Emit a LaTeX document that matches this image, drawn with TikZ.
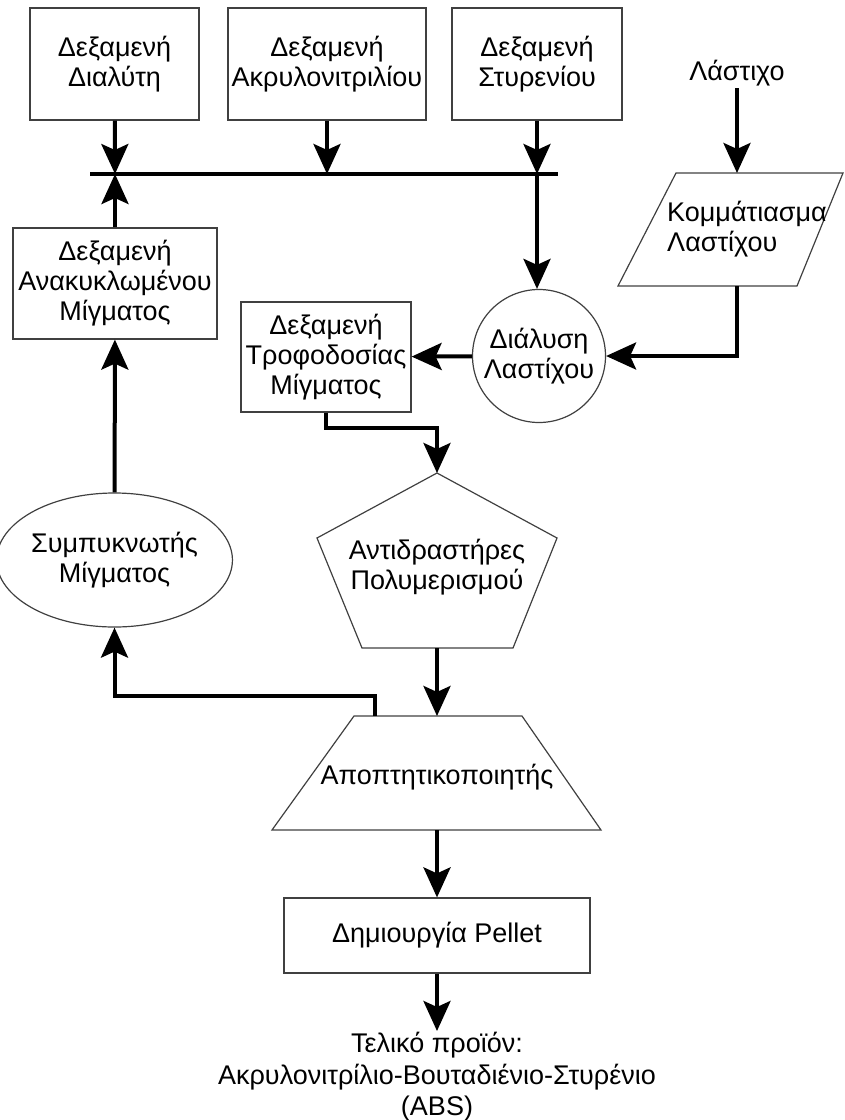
\documentclass[tikz,border=0pt]{standalone}
\usepackage{fontspec}
\setmainfont{Liberation Sans}
\usetikzlibrary{shapes.geometric, arrows.meta, positioning, calc}

\begin{document}
\begin{tikzpicture}[x=1pt, y=-1pt,
  font=\fontsize{27}{30}\selectfont,
  box/.style={draw=black!75, line width=1.2pt, align=center, inner sep=0pt},
  outline/.style={draw=black!75, line width=1.2pt},
  flow/.style={line width=4pt, -{Stealth[length=30pt,width=27pt,inset=6pt]}},
  pipe/.style={line width=4pt}]
\useasboundingbox (0,0) rectangle (845,1120);
% Tanks on top
\node[box, minimum width=169pt, minimum height=112pt] (solvent) at (114.5,64) {Δεξαμενή\\Διαλύτη};
\node[box, minimum width=198pt, minimum height=112pt] (acrylo) at (327,64) {Δεξαμενή\\Ακρυλονιτριλίου};
\node[box, minimum width=170pt, minimum height=112pt] (styrene) at (537,64) {Δεξαμενή\\Στυρενίου};
\node[inner sep=2pt] (rubber) at (737,73) {Λάστιχο};
% Rubber chopping (parallelogram)
\coordinate (chopTop) at (737,173);
\coordinate (chopBot) at (737,286);
\draw[outline] (676,173) -- (843,173) -- (797,286) -- (618,286) -- cycle;
\node[align=left] (chop) at (747,229) {Κομμάτιασμα\\Λαστίχου};
% Mixing line
\coordinate (barL) at (90,174);
\coordinate (barR) at (558,174);
\coordinate (jSolvent) at (115,174);
\coordinate (jAcrylo) at (327,174);
\coordinate (jStyrene) at (537,174);
\node[box, circle, minimum size=133pt] (dissolve) at (539,356) {Διάλυση\\Λαστίχου};
\node[box, minimum width=170pt, minimum height=110pt] (feed) at (326,357) {Δεξαμενή\\Τροφοδοσίας\\Μίγματος};
\node[box, minimum width=204pt, minimum height=111pt] (recycle) at (115,283.5) {Δεξαμενή\\Ανακυκλωμένου\\Μίγματος};
\node[box, ellipse, minimum width=197pt, minimum height=134pt] (condenser) at (114.5,560) {Συμπυκνωτής\\Μίγματος};
% Reactors (pentagon)
\coordinate (reactTop) at (437,473);
\coordinate (reactBot) at (437,648);
\draw[outline] (reactTop) -- (557,538) -- (513,648) -- (362,648) -- (317,538) -- cycle;
\node[align=center] (reactors) at (437,567) {Αντιδραστήρες\\Πολυμερισμού};
% Stripper (trapezoid)
\coordinate (stripTop) at (437,716);
\coordinate (stripBot) at (437,830);
\draw[outline] (354,716) -- (522,716) -- (601,830) -- (272,830) -- cycle;
\node (stripper) at (437,777) {Αποπτητικοποιητής};
\node[box, minimum width=306pt, minimum height=75pt] (pellet) at (437,935.5) {Δημιουργία Pellet};
\node[align=center, anchor=north, inner sep=1pt, font=\fontsize{27}{31.5}\selectfont] (product) at (437,1031) {Τελικό προϊόν:\\Ακρυλονιτρίλιο-Βουταδιένιο-Στυρένιο\\(ABS)};
\coordinate (feedBend) at (325,428);
\coordinate (recyBend) at (375,696);

\draw[pipe] (barL) -- (barR);
\draw[flow] (solvent) -- (jSolvent);
\draw[flow] (acrylo) -- (jAcrylo);
\draw[flow] (styrene) -- (jStyrene);
\draw[flow] (recycle) -- (jSolvent);
\draw[flow] (jStyrene) -- (jStyrene |- dissolve.north);
\draw[flow] (rubber) -- (chopTop);
\draw[flow] (chopBot) |- (dissolve.east);
\draw[flow] (dissolve) -- (feed);
\draw[flow] (feed.south) -- (feed.south |- feedBend) -| (reactTop);
\draw[flow] (reactBot) -- (stripTop);
\draw[flow] (recyBend |- stripTop) -- (recyBend) -| (condenser.south);
\draw[flow] (condenser) -- (recycle);
\draw[flow] (stripBot) -- (pellet);
\draw[flow] (pellet) -- (product);
\end{tikzpicture}
\end{document}
